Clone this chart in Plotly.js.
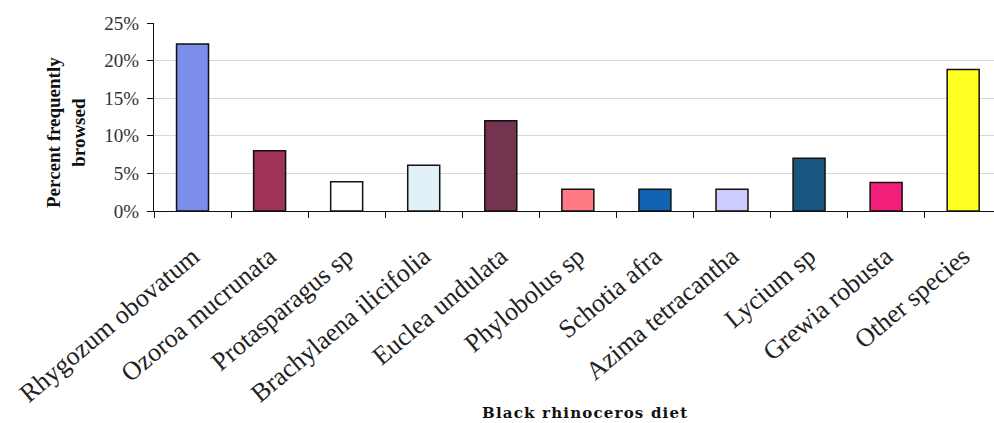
<!DOCTYPE html>
<html>
<head>
<meta charset="utf-8">
<script src="https://cdn.plot.ly/plotly-3.0.1.min.js"></script>
<style>
html,body{margin:0;padding:0;background:#fff;}
#chart{width:994px;height:423px;}
</style>
</head>
<body>
<div id="chart"></div>
<script>
const species = ["Rhygozum obovatum","Ozoroa mucrunata","Protasparagus sp","Brachylaena ilicifolia","Euclea undulata","Phylobolus sp","Schotia afra","Azima tetracantha","Lycium sp","Grewia robusta","Other species"];
const percentBrowsed = [22.2, 8.0, 3.9, 6.1, 12.0, 2.9, 2.9, 2.9, 7.0, 3.8, 18.8];
const barColors = ["#7B8FEA","#9E3356","#FFFFFF","#E2F0F8","#74334F","#FF7A85","#0F63B0","#CCCCFF","#1A5580","#F2207A","#FFFF22"];
const yTickValues = [0,5,10,15,20,25];
const yTickLabels = ["0%","5%","10%","15%","20%","25%"];
const xTitle = "Black rhinoceros diet";
const yTitle = "Percent frequently<br>browsed";

const serif = "Liberation Serif";

const trace = {
  type: "bar",
  x: species,
  y: percentBrowsed,
  marker: {color: barColors, line: {color: "#111", width: 1.5}},
  hoverinfo: "x+y"
};

const layout = {
  width: 994, height: 423,
  margin: {l: 154, r: 0, t: 23, b: 212, pad: 0},
  paper_bgcolor: "#fff", plot_bgcolor: "#fff",
  showlegend: false,
  bargap: 0.585,
  xaxis: {
    type: "category",
    range: [-0.5, 10.4],
    showline: true, linecolor: "#111", linewidth: 1,
    ticks: "outside", tickson: "boundaries", ticklen: 6, tickcolor: "#111",
    tickangle: -40,
    tickfont: {family: serif, size: 26, color: "#222"},
    ticklabelstandoff: 19,
    showgrid: false, zeroline: false, automargin: false, fixedrange: true
  },
  yaxis: {
    range: [0, 25],
    tickvals: yTickValues, ticktext: yTickLabels,
    showline: true, linecolor: "#111", linewidth: 1,
    ticks: "outside", ticklen: 6, tickcolor: "#111",
    tickfont: {family: serif, size: 19, color: "#333"},
    ticklabelstandoff: 4,
    showgrid: true, gridcolor: "#d8d8d8", gridwidth: 1,
    zeroline: false, automargin: false, fixedrange: true
  },
  annotations: [
    {text: "<span style=\"letter-spacing:1.2px\"><b>" + xTitle + "</b></span>", xref: "paper", yref: "paper",
     x: (585 - 154) / 840, y: (211 - 413) / 188, xanchor: "center", yanchor: "middle",
     showarrow: false, font: {family: "DejaVu Serif", size: 15, color: "#111"}},
    {text: "<b>" + yTitle + "</b>", xref: "paper", yref: "paper",
     x: (66 - 154) / 840, y: (211 - 133) / 188, xanchor: "center", yanchor: "middle",
     textangle: -90, showarrow: false,
     font: {family: serif, size: 19, color: "#111"}}
  ]
};

Plotly.newPlot("chart", [trace], layout, {displayModeBar: false, staticPlot: true});
</script>
</body>
</html>
